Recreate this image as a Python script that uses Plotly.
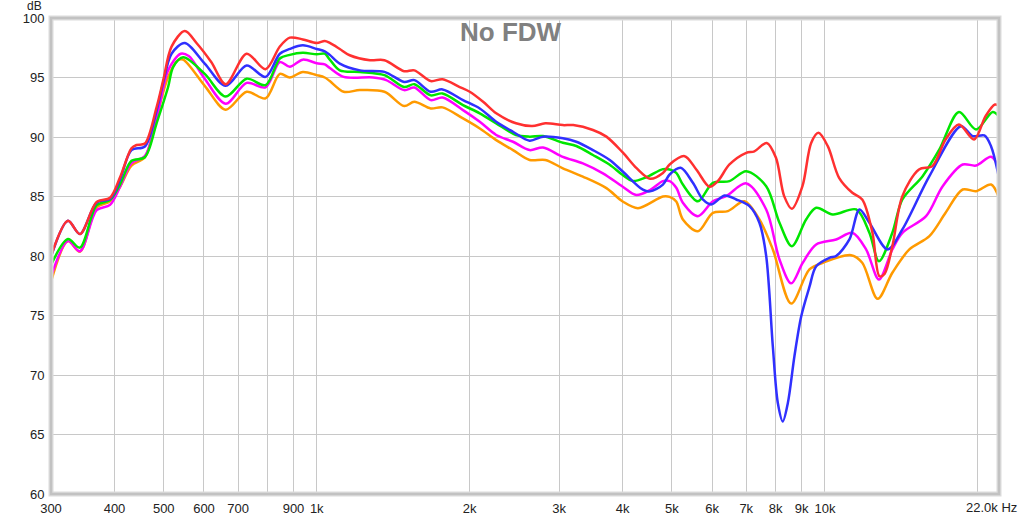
import plotly.graph_objects as go
import math

# ---------------- data (Hz, dB) ----------------
freq_red = [300, 324, 342, 369, 392, 410, 432, 442, 459, 484, 499, 518, 550, 580, 620, 662, 728, 793, 846, 885, 939, 1000, 1037, 1061, 1110, 1161, 1273, 1359, 1486, 1556, 1676, 1768, 1911, 2000, 2125, 2255, 2466, 2654, 2817, 3050, 3196, 3495, 3715, 4000, 4259, 4525, 4799, 4947, 5294, 5582, 5926, 6154, 6488, 7000, 7264, 7679, 8009, 8312, 8608, 9030, 9393, 9709, 10128, 10660, 11320, 11840, 12400, 12800, 13100, 13570, 14200, 15310, 16270, 17270, 18350, 19650, 20700, 21600, 22000]
db_red = [80.0, 82.96, 81.84, 84.55, 84.9, 86.6, 89.05, 89.33, 89.45, 92.5, 94.8, 97.6, 98.9, 97.9, 96.3, 94.44, 97.0, 95.7, 97.6, 98.35, 98.2, 97.9, 98.07, 97.9, 97.4, 96.87, 96.45, 96.45, 95.53, 95.6, 94.7, 94.86, 94.2, 93.8, 92.96, 91.99, 91.15, 90.92, 91.15, 91.0, 91.0, 90.59, 90.03, 88.7, 87.38, 86.5, 86.98, 87.69, 88.39, 87.27, 85.82, 86.29, 87.69, 88.67, 88.8, 89.5, 88.25, 85.03, 83.97, 85.87, 89.5, 90.35, 89.23, 86.57, 85.31, 84.75, 81.95, 78.3, 78.5, 80.82, 85.03, 87.27, 87.55, 89.79, 91.05, 89.79, 91.75, 92.73, 92.6]

freq_blue = [300, 324, 342, 369, 392, 410, 432, 459, 484, 499, 518, 550, 602, 662, 728, 793, 846, 885, 939, 1000, 1037, 1061, 1110, 1216, 1359, 1486, 1556, 1676, 1768, 1940, 2093, 2255, 2433, 2623, 2787, 3050, 3241, 3495, 3771, 4000, 4383, 4525, 4799, 4947, 5200, 5497, 5749, 5973, 6343, 6690, 7103, 7430, 7662, 7896, 8077, 8261, 8452, 8709, 8976, 9320, 9610, 10206, 10518, 11172, 11691, 12230, 13286, 14200, 16049, 18522, 19524, 20586, 21219, 22000]
db_blue = [79.94, 82.96, 81.84, 84.5, 84.8, 86.4, 88.9, 89.2, 92.2, 94.6, 97.0, 97.9, 96.17, 94.3, 96.0, 95.05, 97.0, 97.4, 97.7, 97.4, 97.2, 96.9, 96.17, 95.6, 95.47, 94.63, 94.78, 93.8, 94.0, 93.1, 92.4, 91.28, 90.44, 89.69, 90.03, 89.89, 89.6, 88.9, 88.07, 87.1, 85.57, 85.43, 86.0, 86.85, 87.41, 86.15, 84.75, 84.33, 85.08, 84.75, 84.19, 82.8, 80.0, 72.4, 67.65, 66.1, 67.65, 71.6, 74.9, 77.4, 79.14, 79.85, 80.0, 81.39, 83.91, 82.79, 80.55, 82.23, 86.71, 90.91, 90.07, 90.13, 89.23, 86.57]

freq_green = [300, 324, 342, 369, 392, 410, 432, 459, 484, 510, 522, 546, 602, 662, 728, 793, 846, 885, 939, 1000, 1037, 1061, 1110, 1216, 1359, 1486, 1556, 1676, 1768, 1940, 2093, 2255, 2466, 2623, 2787, 3050, 3241, 3495, 3771, 4000, 4187, 4452, 4799, 4947, 5098, 5253, 5623, 6018, 6488, 7000, 7662, 8138, 8608, 9181, 9610, 10360, 11520, 12230, 12770, 13570, 14200, 15566, 16794, 18350, 19828, 21374, 22000]
db_green = [79.24, 81.42, 80.7, 84.27, 84.7, 86.0, 88.0, 88.3, 91.15, 94.2, 95.9, 96.7, 95.3, 93.4, 94.9, 94.36, 96.6, 96.9, 97.07, 96.95, 97.0, 96.5, 95.6, 95.47, 95.2, 94.2, 94.44, 93.5, 93.66, 92.68, 91.99, 91.15, 90.17, 90.03, 90.08, 89.52, 89.24, 88.49, 87.67, 86.8, 86.3, 86.62, 87.3, 87.27, 86.98, 86.0, 84.6, 86.15, 86.29, 87.13, 85.87, 82.79, 80.82, 83.07, 84.05, 83.49, 83.91, 81.95, 79.56, 81.95, 84.75, 86.71, 88.95, 92.1, 90.63, 92.1, 91.75]

freq_magenta = [300, 324, 342, 369, 392, 410, 432, 459, 484, 510, 540, 560, 602, 662, 728, 793, 846, 885, 939, 1000, 1037, 1061, 1130, 1291, 1370, 1486, 1556, 1676, 1768, 1940, 2093, 2255, 2433, 2623, 2787, 3050, 3339, 3657, 4000, 4254, 4525, 4799, 4947, 5098, 5253, 5623, 6018, 6393, 7000, 7662, 8138, 8581, 9042, 9610, 10518, 11320, 12048, 12770, 13570, 14200, 15810, 17045, 18660, 19828, 21219, 22000]
db_magenta = [78.26, 81.25, 80.4, 83.85, 84.3, 85.8, 87.8, 88.4, 91.5, 95.6, 97.0, 96.8, 94.9, 92.8, 94.55, 94.17, 96.3, 95.9, 96.5, 96.2, 96.1, 95.8, 95.05, 95.0, 94.78, 93.94, 94.16, 93.1, 93.32, 92.26, 91.28, 90.17, 89.6, 88.9, 89.12, 88.33, 87.78, 86.94, 85.82, 85.12, 85.54, 86.29, 86.29, 85.73, 84.47, 83.35, 84.6, 85.03, 86.1, 83.91, 79.71, 77.7, 79.43, 80.97, 81.39, 81.95, 80.55, 78.03, 80.55, 81.95, 83.35, 85.87, 87.69, 87.6, 88.34, 87.41]

freq_orange = [300, 324, 342, 369, 392, 410, 432, 459, 484, 510, 533, 546, 602, 662, 728, 793, 846, 885, 939, 1000, 1037, 1061, 1130, 1216, 1359, 1486, 1556, 1676, 1768, 1940, 2093, 2255, 2433, 2623, 2817, 3050, 3339, 3715, 4000, 4286, 4799, 4947, 5098, 5253, 5623, 6018, 6441, 6942, 7430, 7896, 8581, 9320, 9900, 11259, 11840, 12698, 13570, 14658, 16049, 17270, 18660, 19828, 21219, 22000]
db_orange = [77.84, 81.25, 80.36, 84.1, 84.6, 85.8, 87.6, 88.3, 91.7, 95.05, 96.45, 96.5, 94.3, 92.3, 93.8, 93.24, 95.3, 95.0, 95.47, 95.2, 95.0, 94.7, 93.8, 93.94, 93.8, 92.6, 92.96, 92.4, 92.49, 91.56, 90.72, 89.74, 88.9, 88.07, 88.07, 87.37, 86.67, 85.7, 84.58, 84.02, 85.0, 84.97, 84.58, 83.07, 82.08, 83.63, 83.77, 84.6, 83.07, 80.55, 76.0, 78.87, 79.43, 80.07, 79.43, 76.4, 78.59, 80.55, 81.67, 83.63, 85.59, 85.45, 86.01, 84.9]

x_tickvals = [300, 400, 500, 600, 700, 800, 900, 1000, 2000, 3000, 4000, 5000, 6000, 7000, 8000, 9000, 10000, 20000]
x_ticktext = ["300", "400", "500", "600", "700", "", "900", "1k", "2k", "3k", "4k", "5k", "6k", "7k", "8k", "9k", "10k", ""]
y_tickvals = [60, 65, 70, 75, 80, 85, 90, 95, 100]
y_ticktext = ["60", "65", "70", "75", "80", "85", "90", "95", "100"]

series = [
    ("orange", freq_orange, db_orange, "#ff9a00"),
    ("magenta", freq_magenta, db_magenta, "#ff00ff"),
    ("green", freq_green, db_green, "#00e600"),
    ("blue", freq_blue, db_blue, "#3030ff"),
    ("red", freq_red, db_red, "#ff3030"),
]

FONT = "Liberation Sans, Arial, sans-serif"

fig = go.Figure()
for name, fx, fy, col in series:
    fig.add_trace(go.Scatter(
        x=fx, y=fy, mode="lines", name=name,
        line=dict(color=col, width=2.5, shape="spline", smoothing=0.9),
        showlegend=False, hoverinfo="skip",
    ))

fig.update_layout(
    width=1024, height=518,
    margin=dict(l=51, r=25, t=18, b=24),
    paper_bgcolor="white", plot_bgcolor="white",
    font=dict(family=FONT, size=13, color="#222222"),
    showlegend=False,
)
fig.update_xaxes(
    type="log", range=[math.log10(300), math.log10(22000)],
    tickvals=x_tickvals, ticktext=x_ticktext,
    showgrid=True, gridcolor="#c8c8c8", gridwidth=1,
    zeroline=False, showline=False,
    ticks="outside", ticklen=2, tickcolor="rgba(0,0,0,0)",
    tickfont=dict(family=FONT, size=13, color="#222222"),
    automargin=False, fixedrange=True,
)
fig.update_yaxes(
    range=[60, 100],
    tickvals=y_tickvals, ticktext=y_ticktext,
    showgrid=True, gridcolor="#c8c8c8", gridwidth=1,
    zeroline=False, showline=False,
    ticks="outside", ticklen=3, tickcolor="rgba(0,0,0,0)",
    tickfont=dict(family=FONT, size=13, color="#222222"),
    automargin=False, fixedrange=True,
)

# frame with soft shadow
fig.add_shape(type="rect", xref="paper", yref="paper", x0=0, x1=1, y0=0, y1=1,
              line=dict(color="#dcdcdc", width=5), layer="above")
fig.add_shape(type="rect", xref="paper", yref="paper", x0=0, x1=1, y0=0, y1=1,
              line=dict(color="#c2c2c2", width=2.5), layer="above")

fig.add_annotation(text="No FDW", xref="paper", yref="paper", x=0.4852, y=0.97,
                   xanchor="center", yanchor="middle", showarrow=False,
                   font=dict(family=FONT, size=26, color="#808080", weight="bold"))
fig.add_annotation(text="dB", xref="paper", yref="paper", x=-0.007, y=1.0,
                   xanchor="right", yanchor="middle", showarrow=False, yshift=12,
                   font=dict(family=FONT, size=12, color="#222222"))
fig.add_annotation(text="22.0k Hz", xref="paper", yref="paper", x=1.0 + 20/948, y=0,
                   xanchor="right", yanchor="top", showarrow=False, yshift=-4,
                   font=dict(family=FONT, size=13, color="#222222"))

fig.write_html("out.html", config={"displayModeBar": False},
               post_script="document.body.style.margin='0';")
